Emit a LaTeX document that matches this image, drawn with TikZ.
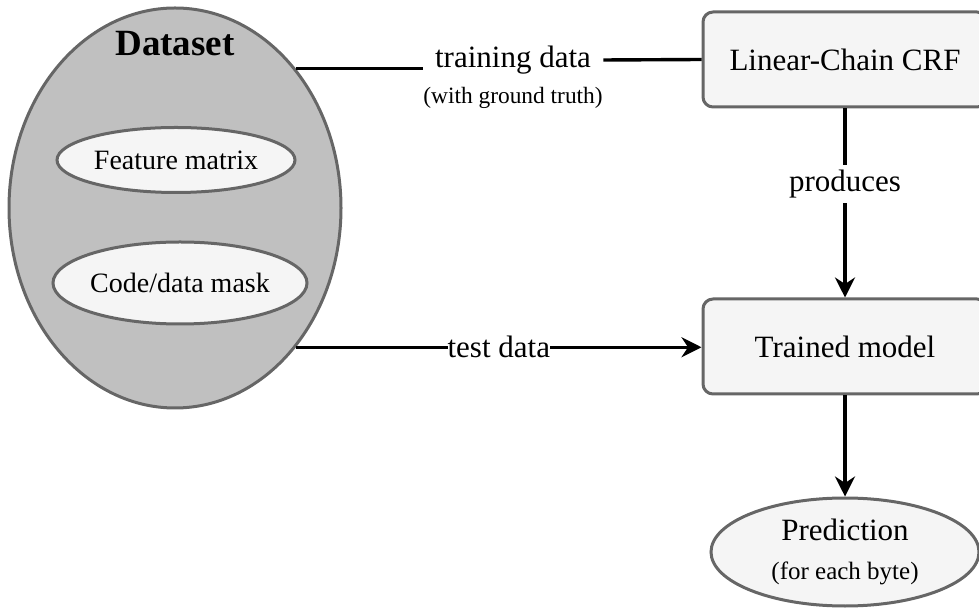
\documentclass[tikz,border=0pt]{standalone}
\usepackage{fontspec}
\setmainfont{Liberation Serif}
\usetikzlibrary{shapes.geometric, arrows.meta, positioning}
\definecolor{setgray}{RGB}{192, 192, 192}
\definecolor{boxfill}{RGB}{245, 245, 245}
\definecolor{edgegray}{RGB}{102, 102, 102}

\begin{document}
\begin{tikzpicture}[
  x=0.5pt, y=-0.5pt,
  blob/.style={ellipse, draw=edgegray, line width=1.5pt, inner sep=0pt},
  box/.style={rectangle, rounded corners=5pt, draw=edgegray, fill=boxfill, line width=1.5pt,
    minimum width=142pt, minimum height=47.5pt, font=\fontsize{15.5}{18}\selectfont},
  conn/.style={line width=1.7pt},
  tip/.style={-{Stealth[length=10pt, width=10pt]}},
  lbl/.style={font=\fontsize{15.5}{18}\selectfont, fill=white}
]
  \useasboundingbox (0,0) rectangle (979,608);

  % Dataset
  \node[blob, fill=setgray, minimum width=166pt, minimum height=200pt] (dataset) at (175,208) {};
  \node[font=\fontsize{18.5}{22}\selectfont\bfseries] (dstitle) at (175,44) {Dataset};
  \node[blob, fill=boxfill, minimum width=119pt, minimum height=32.5pt, font=\fontsize{14}{17}\selectfont] (feat) at (176,160) {Feature matrix};
  \node[blob, fill=boxfill, minimum width=122pt, minimum height=41pt, font=\fontsize{14}{17}\selectfont] (mask) at (180,283) {Code/data mask};

  % Model
  \node[box] (crf) at (845,59.5) {Linear-Chain CRF};
  \node[box] (trained) at (845,346.5) {Trained model};
  \node[blob, fill=boxfill, minimum width=134pt, minimum height=54pt, align=center,
    font=\fontsize{15.5}{19.5}\selectfont] (pred) at (845,552)
    {Prediction\\{\fontsize{12.5}{15}\selectfont (for each byte)}};

  % Training data
  \node[lbl, inner xsep=6pt, inner ysep=0pt] (train) at (513,60) {training data};
  \node[font=\fontsize{11.7}{14}\selectfont] (gtruth) at (513,98) {(with ground truth)};
  \draw[conn] (dataset.49) -- (dataset.49 -| train.west);
  \draw[conn] (train.east) -- (crf.west);

  % Test data
  \draw[conn, tip] (dataset.-49) -- (dataset.-49 -| trained.west)
    node[lbl, midway, inner sep=0pt] (test) {test data};

  % Produces
  \draw[conn, tip] (crf.south) -- (trained.north)
    node[lbl, pos=0.4, inner xsep=2pt, inner ysep=2.5pt] (prod) {produces};
  \draw[conn, tip] (trained.south) -- (pred.north);
\end{tikzpicture}
\end{document}
